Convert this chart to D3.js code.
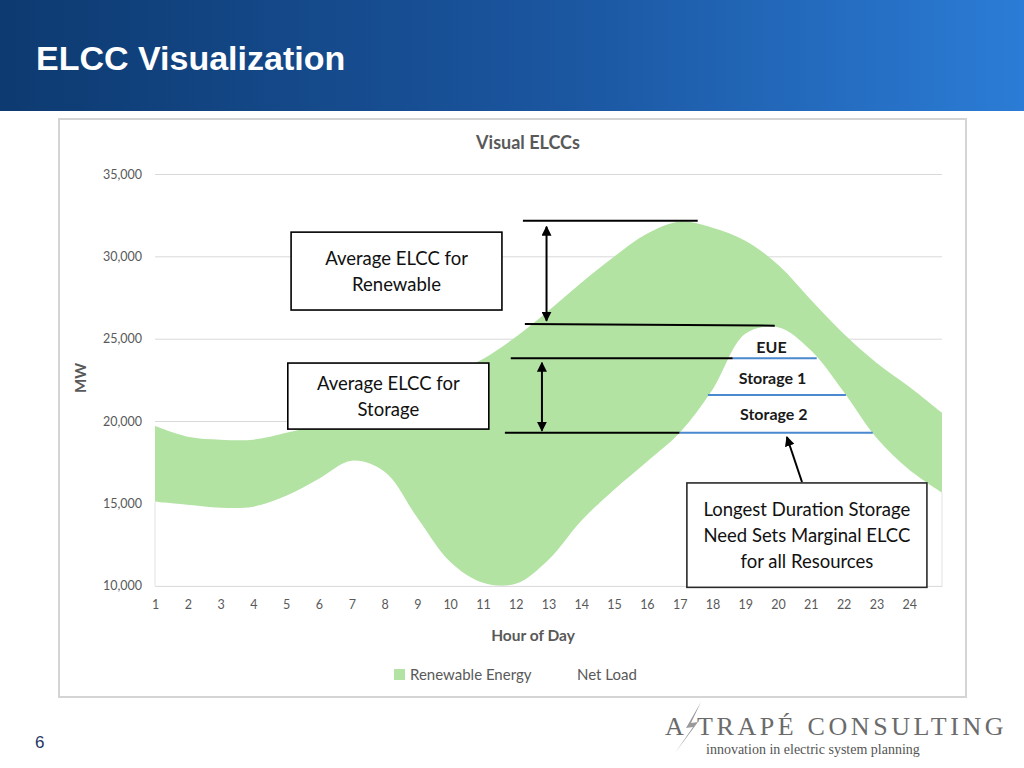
<!DOCTYPE html>
<html>
<head>
<meta charset="utf-8">
<title>ELCC Visualization</title>
<script src="https://cdn.jsdelivr.net/npm/d3@7"></script>
<style>
	html, body { margin: 0; padding: 0; background: #fff; }
	svg { display: block; }
	.chart-text { font-family: Lato, "Noto Sans", sans-serif; }
	.axis text { font-family: Lato, "Noto Sans", sans-serif; fill: #595959; font-size: 12.5px; }
</style>
</head>
<body>
<svg id="slide" width="1024" height="768"></svg>
<script>
"use strict";

/* global d3 */

// Hours of the day (the chart has a 25th, unlabeled point at the right edge)
var hours = [1, 2, 3, 4, 5, 6, 7, 8, 9, 10, 11, 12, 13, 14, 15, 16, 17, 18, 19, 20, 21, 22, 23, 24, 25];
var hourLabels = ["1", "2", "3", "4", "5", "6", "7", "8", "9", "10", "11", "12",
	"13", "14", "15", "16", "17", "18", "19", "20", "21", "22", "23", "24"];

// Net load (MW), bottom series of the stack
var netLoad = [15100, 14920, 14740, 14800, 15460, 16500, 17590, 16920, 14130, 11460, 10180, 10120,
	11580, 13950, 15830, 17530, 19290, 21900, 25300, 25700, 24300, 21780, 18990, 17040, 15650];

// Renewable energy (MW), stacked on top of the net load
var renewable = [4600, 4130, 4130, 4070, 3830, 3280, 2850, 4250, 7830, 11350, 13590, 14980,
	15120, 14450, 14150, 13840, 12810, 9840, 5650, 3790, 3070, 3520, 4550, 5040, 4850];

var mwTicks = [10000, 15000, 20000, 25000, 30000, 35000];
var seriesNames = ["Renewable Energy", "Net Load"];

var svg = d3.select('#slide');

var x = d3.scaleLinear().domain([1, 25]).range([155, 942]);
var y = d3.scaleLinear().domain([10000, 35000]).range([585.7, 174]);

////////////////////////////////////////////////////////////////////////////////
// Slide header, page number and company logo
////////////////////////////////////////////////////////////////////////////////
function drawSlide(svg) {
	var defs = svg.append('defs');
	var grad = defs.append('linearGradient').attr('id', 'hdr').
		attr('x1', 0).attr('x2', 1).attr('y1', 0).attr('y2', 0);
	grad.append('stop').attr('offset', '0%').attr('stop-color', '#0d3a70');
	grad.append('stop').attr('offset', '55%').attr('stop-color', '#1b56a0');
	grad.append('stop').attr('offset', '100%').attr('stop-color', '#2b7cd6');

	svg.append('rect').attr('width', 1024).attr('height', 111).attr('fill', 'url(#hdr)');
	svg.append('text').attr('x', 36).attr('y', 70).text('ELCC Visualization').
		style('font-family', 'Liberation Sans, Arial, sans-serif').style('font-weight', 'bold').
		style('font-size', '34px').attr('fill', '#fff');

	// page number
	svg.append('text').attr('x', 35).attr('y', 748).text('6').
		style('font-family', 'Liberation Sans, Arial, sans-serif').style('font-size', '17px').
		attr('fill', '#1f3864');

	// logo
	var logo = svg.append('g').attr('fill', '#6b6b6b').
		style('font-family', '"Liberation Serif", "DejaVu Serif", serif');
	logo.append('text').attr('x', 665).attr('y', 735).text('A').style('font-size', '26px');
	logo.append('polygon').attr('fill', '#9a9a9a').
		attr('points', '701,702 686,728 693,727 675,753 698,722 691,723');
	logo.append('text').attr('x', 697).attr('y', 735).text('TRAPÉ CONSULTING').
		style('font-size', '26px').style('letter-spacing', '3.6px');
	logo.append('text').attr('x', 706).attr('y', 754).text('innovation in electric system planning').
		style('font-size', '14px').attr('fill', '#555');
} // end function drawSlide(...)

////////////////////////////////////////////////////////////////////////////////
// Chart frame, axes, gridlines, stacked areas and legend
////////////////////////////////////////////////////////////////////////////////
function drawChart(svg) {
	var g = svg.append('g').attr('class', 'chart-text');

	g.append('rect').attr('x', 59).attr('y', 119).attr('width', 907).attr('height', 578).
		attr('fill', '#fff').attr('stroke', '#d4d4d4').attr('stroke-width', 2);

	g.append('text').attr('x', 528).attr('y', 149).attr('text-anchor', 'middle').
		text('Visual ELCCs').style('font-weight', 'bold').style('font-size', '18px').
		attr('fill', '#595959');

	// y axis with gridlines
	var yAxis = g.append('g').attr('class', 'axis').attr('transform', 'translate(155,0)').
		call(d3.axisLeft(y).tickValues(mwTicks).tickSize(-(x.range()[1] - x.range()[0])).
			tickPadding(13).tickFormat(d3.format(',')));
	yAxis.select('.domain').remove();
	yAxis.selectAll('line').attr('stroke', '#d9d9d9');

	// x axis
	var xAxis = g.append('g').attr('class', 'axis').attr('transform', 'translate(0,' + y(10000) + ')').
		call(d3.axisBottom(x).tickValues(hours.slice(0, 24)).tickSize(0).tickSizeOuter(0).
			tickPadding(14).tickFormat(function(d, i) { return hourLabels[i]; }));
	xAxis.select('.domain').attr('stroke', '#d9d9d9');

	g.append('text').attr('transform', 'translate(86,378) rotate(-90)').attr('text-anchor', 'middle').
		text('MW').style('font-weight', 'bold').style('font-size', '15px').attr('fill', '#595959');
	g.append('text').attr('x', 533).attr('y', 641).attr('text-anchor', 'middle').
		text('Hour of Day').style('font-weight', 'bold').style('font-size', '15.5px').attr('fill', '#595959');

	// stacked areas
	var rows = hours.map(function(h, i) { return { hour: h, net: netLoad[i], renew: renewable[i] }; });
	var stack = d3.stack().keys(['net', 'renew'])(rows);

	g.append('clipPath').attr('id', 'plotClip').append('rect').
		attr('x', x(1)).attr('y', y(35000)).attr('width', x(25) - x(1)).attr('height', y(10000) - y(35000));

	var area = d3.area().curve(d3.curveCatmullRom).
		x(function(d) { return x(d.data.hour); }).
		y0(function(d) { return y(d[0]); }).
		y1(function(d) { return y(d[1]); });

	var areas = g.append('g').attr('clip-path', 'url(#plotClip)');
	areas.append('path').datum(stack[0]).attr('d', area).attr('fill', '#fff');
	areas.append('path').datum(stack[1]).attr('d', area).attr('fill', '#b3e3a3');

	// faint edges of the net load area
	[0, hours.length - 1].forEach(function(i) {
		g.append('line').attr('x1', x(hours[i])).attr('x2', x(hours[i])).
			attr('y1', y(netLoad[i])).attr('y2', y(10000)).attr('stroke', '#e2e2e2');
	});

	// legend
	var leg = g.append('g').style('font-size', '15px').attr('fill', '#595959');
	leg.append('rect').attr('x', 394).attr('y', 669).attr('width', 11).attr('height', 11).attr('fill', '#b3e3a3');
	leg.append('text').attr('x', 410).attr('y', 680).text(seriesNames[0]);
	leg.append('rect').attr('x', 562).attr('y', 669).attr('width', 11).attr('height', 11).attr('fill', '#fff');
	leg.append('text').attr('x', 577).attr('y', 680).text(seriesNames[1]);

	return g;
} // end function drawChart(...)

////////////////////////////////////////////////////////////////////////////////
// Text box placed in data units (hour, MW), text centered
////////////////////////////////////////////////////////////////////////////////
function textBox(g, h0, h1, mwTop, mwBot, lines, stroke) {
	var bx = x(h0), by = y(mwTop), bw = x(h1) - x(h0), bh = y(mwBot) - y(mwTop);
	g.append('rect').attr('x', bx).attr('y', by).attr('width', bw).attr('height', bh).
		attr('fill', '#fff').attr('stroke', stroke).attr('stroke-width', 1.6);
	var lh = 26, cy = by + bh / 2, first = cy - (lines.length - 1) * lh / 2 + 6.6;
	lines.forEach(function(t, i) {
		g.append('text').attr('x', bx + bw / 2).attr('y', first + i * lh).attr('text-anchor', 'middle').
			text(t).style('font-size', '18.5px').attr('fill', '#111');
	});
} // end function textBox(...)

function hLine(g, h0, h1, mw0, mw1, color) {
	g.append('line').attr('x1', x(h0)).attr('x2', x(h1)).attr('y1', y(mw0)).attr('y2', y(mw1)).
		attr('stroke', color).attr('stroke-width', 2);
}

function arrow(g, h0, mw0, h1, mw1, both) {
	var ln = g.append('line').attr('x1', x(h0)).attr('y1', y(mw0)).attr('x2', x(h1)).attr('y2', y(mw1)).
		attr('stroke', '#000').attr('stroke-width', 2).attr('marker-end', 'url(#arrowHead)');
	if (both) ln.attr('marker-start', 'url(#arrowHead)');
}

////////////////////////////////////////////////////////////////////////////////
// ELCC annotations
////////////////////////////////////////////////////////////////////////////////
function drawAnnotations(g) {
	g.append('defs').append('marker').attr('id', 'arrowHead').attr('viewBox', '0 0 10 10').
		attr('refX', 9).attr('refY', 5).attr('markerWidth', 10).attr('markerHeight', 10).
		attr('markerUnits', 'userSpaceOnUse').attr('orient', 'auto-start-reverse').
		append('path').attr('d', 'M0,0 L10,5 L0,10 z').attr('fill', '#000');

	var blue = '#4a89cf';

	// black reference levels
	hLine(g, 12.22, 17.55, 32160, 32160, '#000');
	hLine(g, 12.28, 19.90, 25890, 25790, '#000');
	hLine(g, 11.85, 18.62, 23810, 23810, '#000');
	hLine(g, 11.67, 17.00, 19290, 19290, '#000');

	// storage slices under the net load peak
	hLine(g, 18.62, 21.18, 23810, 23810, blue);
	hLine(g, 17.86, 22.07, 21580, 21580, blue);
	hLine(g, 17.00, 22.89, 19290, 19290, blue);

	var lbl = g.append('g').style('font-weight', 'bold').style('font-size', '16px').
		attr('fill', '#1a1a1a').attr('text-anchor', 'middle');
	lbl.append('text').attr('x', x(19.80)).attr('y', y(24150)).text('EUE');
	lbl.append('text').attr('x', x(19.83)).attr('y', y(22250)).text('Storage 1');
	lbl.append('text').attr('x', x(19.87)).attr('y', y(20060)).text('Storage 2');

	// arrows
	arrow(g, 12.94, 26090, 12.94, 31800, true);
	arrow(g, 12.80, 19410, 12.80, 23540, true);
	arrow(g, 20.73, 16300, 20.27, 19030, false);

	// boxes
	textBox(g, 5.15, 11.58, 31470, 26740, ['Average ELCC for', 'Renewable'], '#000');
	textBox(g, 5.05, 11.18, 23520, 19510, ['Average ELCC for', 'Storage'], '#000');
	textBox(g, 17.22, 24.54, 16240, 9900,
		['Longest Duration Storage', 'Need Sets Marginal ELCC', 'for all Resources'], '#2a2a2a');
} // end function drawAnnotations(...)

drawSlide(svg);
var chart = drawChart(svg);
drawAnnotations(chart);
/* EOF */
</script>
</body>
</html>
